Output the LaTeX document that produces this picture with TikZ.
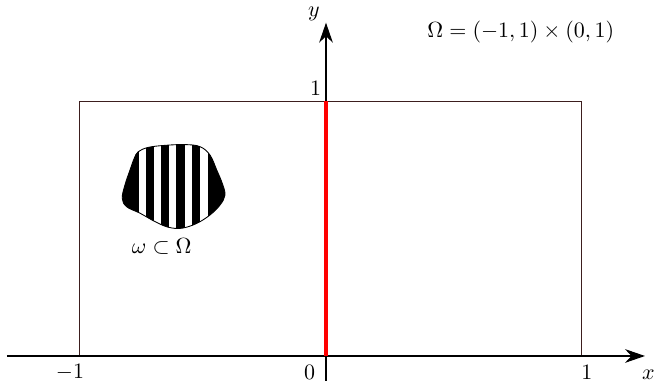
\documentclass[tikz,border=0pt]{standalone}
\usetikzlibrary{arrows.meta,positioning}
\definecolor{domainink}{HTML}{000000}
\definecolor{domainedge}{HTML}{3C1E1E}
\definecolor{interfacered}{HTML}{FF0000}
\tikzset{
  axisline/.style={-{Stealth[length=3.2mm,width=2.2mm]}, draw=domainink, line width=.5pt},
  boxedge/.style={draw=domainedge, line width=.4pt},
  blobedge/.style={draw=domainink, line width=.4pt},
  interface/.style={draw=interfacered, line width=1.4pt},
  ticklabel/.style={font=\normalsize, text=domainink, inner sep=1pt},
  stripe/.style={fill=domainink, draw=none}
}
\begin{document}
\begin{tikzpicture}[x=4cm,y=4.08cm]
  \useasboundingbox (-1.304,-0.098) rectangle (1.324,1.396);
  % axes and the box (-1,1) x (0,1)
  \coordinate (xstart) at (-1.276,0);
  \coordinate (xend) at (1.276,0);
  \coordinate (ystart) at (0,-0.098);
  \coordinate (yend) at (0,1.307);
  \coordinate (bl) at (-0.988,0);
  \coordinate (tr) at (1.02,1);
  \coordinate (ifbot) at (0,0);
  \coordinate (iftop) at (0,1);
  \draw[boxedge] (bl) rectangle (tr);
  \draw[axisline] (xstart) -- (xend);
  \draw[axisline] (ystart) -- (yend);
  \draw[interface] (ifbot) -- (iftop);

  \node[ticklabel] (xlab) at (1.290,-0.072) {$x$};
  \node[ticklabel] (ylab) at (-0.048,1.342) {$y$};
  \node[ticklabel] (yone) at (-0.042,1.051) {$1$};
  \node[ticklabel] (zero) at (-0.066,-0.063) {$0$};
  \node[ticklabel] (mone) at (-1.024,-0.063) {$-1$};
  \node[ticklabel] (xone) at (1.043,-0.063) {$1$};
  \node[ticklabel] (domain) at (0.779,1.272) {$\Omega=(-1,1)\times(0,1)$};

  % striped control region
  \def\blobpath{plot[smooth cycle, tension=0.6] coordinates {
    (-0.751,0.801) (-0.711,0.818) (-0.644,0.826) (-0.564,0.829)
    (-0.504,0.821) (-0.464,0.788) (-0.437,0.729) (-0.415,0.677)
    (-0.404,0.631) (-0.424,0.592) (-0.464,0.553) (-0.517,0.520)
    (-0.577,0.501) (-0.631,0.505) (-0.684,0.527) (-0.744,0.560)
    (-0.797,0.585) (-0.815,0.618) (-0.804,0.671) (-0.784,0.729)
    (-0.767,0.775)}}
  \begin{scope}
    \clip \blobpath;
    \foreach \a/\b in {-0.85/-0.748,-0.721/-0.687,-0.660/-0.626,
                       -0.599/-0.565,-0.536/-0.502,-0.473/-0.38} {
      \fill[stripe] (\a,0.45) rectangle (\b,0.88);
    }
  \end{scope}
  \draw[blobedge] \blobpath;
  \node[ticklabel] (control) at (-0.657,0.429) {$\omega\subset\Omega$};
\end{tikzpicture}
\end{document}
